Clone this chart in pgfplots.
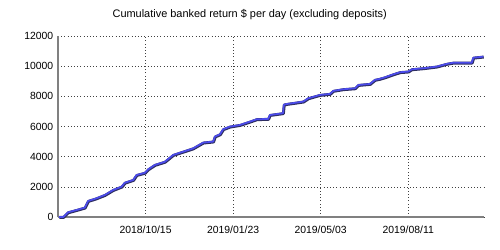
\documentclass[border=0pt]{standalone}
\usepackage{pgfplots}
\pgfplotsset{compat=1.18}
\usetikzlibrary{calc}
\usepackage{fontspec}
\setmainfont{Liberation Sans}
\definecolor{linebl}{RGB}{75,75,235}
\definecolor{shadowc}{RGB}{45,45,95}
\begin{document}
\begin{tikzpicture}
\begin{axis}[
  scale only axis,
  width=319.5pt, height=135.75pt,
  xmin=-100, xmax=386.6, ymin=0, ymax=12000,
  axis x line*=bottom, axis y line*=left,
  axis line style={draw=black!50, line width=0.8pt, -},
  xtick={0,100,200,300},
  xticklabels={2018/10/15,2019/01/23,2019/05/03,2019/08/11},
  ytick={0,2000,4000,6000,8000,10000,12000},
  scaled y ticks=false,
  yticklabel style={/pgf/number format/1000 sep={}, font=\fontsize{7.8}{9}\selectfont},
  xticklabel style={font=\fontsize{7.8}{9}\selectfont, yshift=-3.5pt},
  /pgf/number format/assume math mode=true,
  major tick length=0pt,
  xmajorgrids, ymajorgrids,
  grid style={dotted, draw=black!75, line width=0.5pt},
  clip=false,
]
\addplot[draw=shadowc, line width=2.2pt, line join=round, shift={(0.3pt,-0.3pt)}] coordinates {
(-99,0) (-94,0) (-88.5,310) (-79,460) (-69.4,620) (-65.6,1060) (-56,1240)
(-46.5,1460) (-37,1790) (-27.4,2010) (-23.7,2270) (-14.2,2450) (-10.3,2780)
(-0.8,2930) (3,3160) (10.6,3450) (22,3660) (31.5,4110) (43,4330) (54.4,4550)
(65.8,4930) (77.3,5000) (79.2,5330) (84.9,5480) (88.7,5820) (96.3,5990)
(107.8,6100) (119.2,6320) (126.9,6480) (140.1,6500) (142,6760) (157,6880)
(158,7450) (161.3,7490) (180.1,7650) (185.8,7870) (199.2,8090) (210.6,8160)
(214.4,8360) (225.8,8470) (239.2,8530) (243,8750) (256.3,8820) (262,9090)
(267,9150) (273.5,9260) (281.1,9420) (290.6,9600) (300.1,9640) (304,9790)
(317.3,9860) (332.6,9970) (344,10150) (351.5,10230) (372.6,10230)
(374.4,10560) (385.8,10630)
};
\addplot[draw=linebl, line width=1.3pt, line join=round] coordinates {
(-99,0) (-94,0) (-88.5,310) (-79,460) (-69.4,620) (-65.6,1060) (-56,1240)
(-46.5,1460) (-37,1790) (-27.4,2010) (-23.7,2270) (-14.2,2450) (-10.3,2780)
(-0.8,2930) (3,3160) (10.6,3450) (22,3660) (31.5,4110) (43,4330) (54.4,4550)
(65.8,4930) (77.3,5000) (79.2,5330) (84.9,5480) (88.7,5820) (96.3,5990)
(107.8,6100) (119.2,6320) (126.9,6480) (140.1,6500) (142,6760) (157,6880)
(158,7450) (161.3,7490) (180.1,7650) (185.8,7870) (199.2,8090) (210.6,8160)
(214.4,8360) (225.8,8470) (239.2,8530) (243,8750) (256.3,8820) (262,9090)
(267,9150) (273.5,9260) (281.1,9420) (290.6,9600) (300.1,9640) (304,9790)
(317.3,9860) (332.6,9970) (344,10150) (351.5,10230) (372.6,10230)
(374.4,10560) (385.8,10630)
};
\node[anchor=base, font=\fontsize{8.2}{10}\selectfont] at (rel axis cs:0.45,1) [yshift=14.25pt] {Cumulative banked return \$ per day (excluding deposits)};
\end{axis}
\pgfresetboundingbox
\path (current axis.south west) ++(-43.5pt,-24.75pt) rectangle ($(current axis.north east)+(12pt,27pt)$);
\end{tikzpicture}
\end{document}
